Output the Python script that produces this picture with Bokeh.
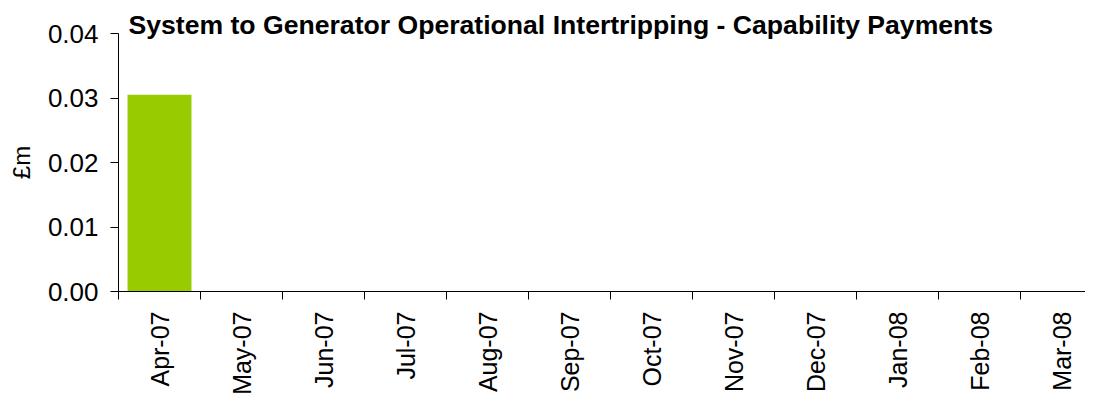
import math
from bokeh.plotting import figure
from bokeh.models import Range1d, FixedTicker, LinearAxis, PrintfTickFormatter, ColumnDataSource
from bokeh.embed import file_html
from bokeh.resources import INLINE
import numpy as np

months = ["Apr-07", "May-07", "Jun-07", "Jul-07", "Aug-07", "Sep-07",
          "Oct-07", "Nov-07", "Dec-07", "Jan-08", "Feb-08", "Mar-08"]
values = [0.0305, 0, 0, 0, 0, 0, 0, 0, 0, 0, 0, 0]
y_ticks = [0.00, 0.01, 0.02, 0.03, 0.04]
title_text = "System to Generator Operational Intertripping - Capability Payments"
y_label = "£m"

FONT = "Liberation Sans"
n = len(months)
centers = list(np.arange(n) + 0.5)
src = ColumnDataSource(dict(x=centers, top=values, month=months))

p = figure(width=1085, height=397, output_backend="svg", toolbar_location=None,
           x_range=Range1d(0, 11.79), y_range=Range1d(0, 0.04),
           x_axis_type=None, min_border_left=118, min_border_right=0,
           min_border_top=33, min_border_bottom=60)
p.background_fill_color = "white"
p.border_fill_color = "white"
p.outline_line_color = None
p.grid.visible = False

p.vbar(x="x", top="top", width=0.78, source=src, fill_color="#99CC00", line_color=None)

# title
p.title.text = title_text
p.title.text_font = FONT
p.title.text_font_size = "26.6px"
p.title.text_font_style = "bold"
p.title.text_color = "black"
p.title.align = "left"
p.title.offset = 10
p.title.standoff = -12

# y axis
ya = p.yaxis[0]
ya.ticker = FixedTicker(ticks=y_ticks)
ya.formatter = PrintfTickFormatter(format="%.2f")
ya.major_label_text_font = FONT
ya.major_label_text_font_size = "26px"
ya.major_label_text_color = "black"
ya.major_tick_out = 8
ya.major_tick_in = 0
ya.minor_tick_line_color = None
ya.axis_line_color = "black"
ya.major_tick_line_color = "black"
ya.major_label_standoff = 12
ya.axis_label = y_label
ya.axis_label_text_font = FONT
ya.axis_label_text_font_size = "24px"
ya.axis_label_text_font_style = "normal"
ya.axis_label_text_color = "black"
ya.axis_label_standoff = 10

# x axis: labels at category centers, ticks at category boundaries
xa = LinearAxis(ticker=FixedTicker(ticks=centers, minor_ticks=list(range(n + 1))))
xa.major_label_overrides = {c: m for c, m in zip(centers, months)}
xa.major_label_orientation = math.pi / 2
xa.major_label_text_font = FONT
xa.major_label_text_font_size = "25px"
xa.major_label_text_color = "black"
xa.major_tick_line_color = None
xa.major_tick_out = 0
xa.major_tick_in = 0
xa.minor_tick_line_color = "black"
xa.minor_tick_out = 8
xa.minor_tick_in = 0
xa.axis_line_color = "black"
xa.major_label_standoff = 12
p.add_layout(xa, "below")

open("out.html", "w").write(file_html(p, INLINE))
